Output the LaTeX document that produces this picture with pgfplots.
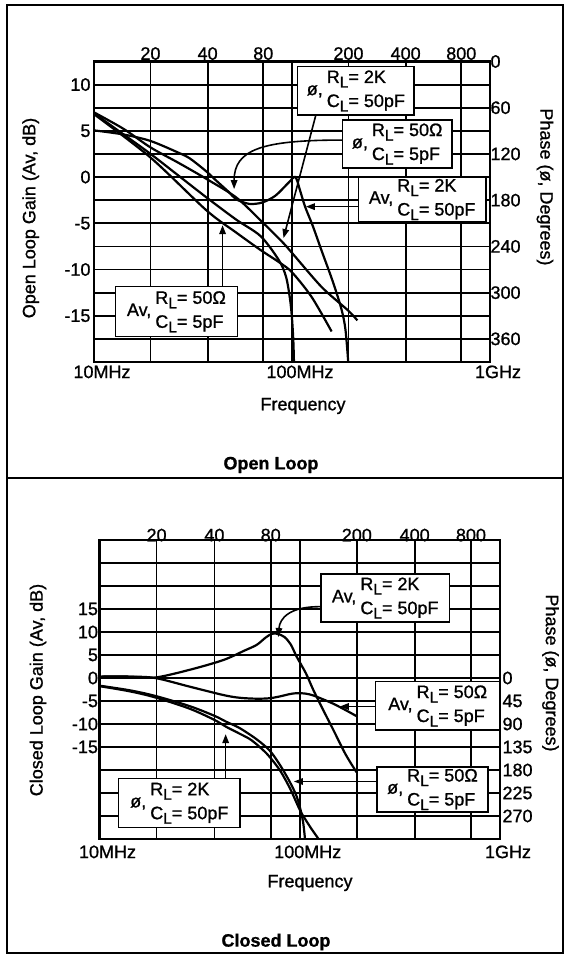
\documentclass[border=0pt]{standalone}
\usepackage{fontspec}
\setmainfont{Liberation Sans}[FakeBold=1]
\usepackage{pgfplots}
\pgfplotsset{compat=1.18}
\usetikzlibrary{arrows.meta,calc}
\newcommand\sub[1]{\raisebox{-4.5pt}{\fontsize{15.5}{15.5}\selectfont #1}}
\newcommand\lab[3]{#1,\hspace{4pt}\begin{tabular}[c]{@{}l@{}}R\sub{L}= #2\\[3pt]C\sub{L}= #3\end{tabular}}
\tikzset{
  olcurve/.style={black, line width=2.2pt, smooth, mark=none},
  olbox/.style={draw=black, fill=white, line width=1.6pt},
  olarr/.style={black, line width=1.6pt, -{Triangle[length=9pt,width=6.5pt]}},
}
\begin{document}
\begin{tikzpicture}[font=\fontsize{18}{21}\selectfont]
\path (0pt,0pt) rectangle (566pt,955pt);
\draw[line width=1.6pt] (7pt,2pt) rectangle (563pt,950pt);
\draw[line width=1.6pt] (7pt,477pt) -- (563pt,477pt);

% ================= OPEN LOOP =================
\begin{axis}[scale only axis, anchor=south west, xmode=log, xmin=10, xmax=1000,
  axis line style={line width=2.6pt}, major tick length=0pt,
  tick label style={font=\fontsize{18}{21}\selectfont},
  at={(94pt,593pt)}, width=396pt, height=300.5pt,
  ymin=-20, ymax=12.5,
  ytick={-20,-17.5,-15,-12.5,-10,-7.5,-5,-2.5,0,2.5,5,7.5,10,12.5},
  yticklabels={,,-15,,-10,,-5,,0,,5,,10,},
  xtick={10,19.28,37.5,71.6,100,192.8,375,716,1000},
  xticklabels={10MHz,,,,100MHz,,,,1GHz},
  xticklabel style={xshift=8pt},
  grid=major, major grid style={black, line width=1.8pt}]
% Av, RL=2K, CL=50pF
\addplot[olcurve] coordinates {(10,5.05)(14.13,4.6)(19.32,3.9)(26.92,2.6)(30.55,2.0)(36.98,0.6)(41.5,-0.4)(47.86,-1.6)(52.24,-2.4)(60.81,-2.9)(70.79,-2.75)(82.6,-2.0)(96.16,-0.6)(103.99,0)(110,-1.5)(116.4,-3.2)(127.4,-5.3)(141.3,-8.0)(160.7,-11.3)(177.8,-14.3)(186.2,-16.5)(192.3,-20)};
% Av, RL=50, CL=5pF
\addplot[olcurve] coordinates {(10,6.8)(19.32,2.1)(36.98,-3.6)(52.24,-6.0)(69.5,-7.9)(85.9,-9.2)(100,-10.3)(125.9,-13.0)(158.5,-16.7)};
\end{axis}

\begin{axis}[scale only axis, anchor=south west, xmode=log, xmin=10, xmax=1000,
  axis line style={line width=2.6pt}, major tick length=0pt,
  tick label style={font=\fontsize{18}{21}\selectfont},
  at={(94pt,593pt)}, width=396pt, height=300.5pt,
  ymin=0, ymax=390, y dir=reverse,
  ytick={0,60,120,180,240,300,360}, yticklabels={0,60,120,180,240,300,360},
  xtick={19.28,37.5,71.6,192.8,375,716}, xticklabels={20,40,80,200,400,800},
  xticklabel pos=right, yticklabel pos=right,
  xticklabel style={yshift=-2pt}, yticklabel style={xshift=-3pt}]
% phase, RL=2K, CL=50pF
\addplot[olcurve] coordinates {(10,66)(14.13,87.6)(19.32,111.6)(26.92,132)(36.98,152.4)(52.24,176.4)(69.5,206.4)(89.13,234)(100,248.4)(141.3,292.8)(191.4,322.8)(213.8,336)};
% phase, RL=50, CL=5pF
\addplot[olcurve] coordinates {(10,67.2)(14.13,94.8)(19.32,120)(26.92,148.8)(36.98,176.4)(52.24,205.2)(69.5,226.8)(85.9,258)(93.33,279.6)(97.72,308.4)(100,333.6)(101.6,363.6)(102.3,390)};
\end{axis}

\begin{axis}[scale only axis, anchor=south west, xmode=log, xmin=10, xmax=1000,
  at={(94pt,593pt)}, width=396pt, height=300.5pt,
  ymin=-20, ymax=12.5, hide axis, clip=false]
\draw[olbox] (axis cs:106.7,11.94) rectangle (axis cs:414,6.72);
\node at (axis cs:210.2,9.33) {\lab{ø}{2K}{50pF}};
\draw[olbox] (axis cs:179.5,6.18) rectangle (axis cs:644,1.0);
\node at (axis cs:340,3.59) {\lab{ø}{50Ω}{5pF}};
\draw[olbox] (axis cs:216.3,0.03) rectangle (axis cs:955,-4.85);
\node at (axis cs:454.5,-2.41) {\lab{Av}{2K}{50pF}};
\draw[olbox] (axis cs:12.82,-11.85) rectangle (axis cs:53.09,-17.25);
\node at (axis cs:26.09,-14.55) {\lab{Av}{50Ω}{5pF}};
\draw[olarr] (axis cs:132,6.72) -- (axis cs:90.6,-6.6);
\draw[olarr] (axis cs:179.5,4.0) .. controls (axis cs:70.8,4.0) and (axis cs:51,3.0) .. (axis cs:51,-1.3);
\draw[olarr] (axis cs:216.3,-3.2) -- (axis cs:117.5,-3.2);
\draw[olarr] (axis cs:44.6,-11.85) -- (axis cs:44.6,-5.2);
\end{axis}

% ================= CLOSED LOOP =================
\begin{axis}[scale only axis, anchor=south west, xmode=log, xmin=10, xmax=1000,
  axis line style={line width=2.6pt}, major tick length=0pt,
  tick label style={font=\fontsize{18}{21}\selectfont},
  at={(99.5pt,116pt)}, width=400.5pt, height=299pt,
  ymin=-35, ymax=30,
  ytick={-35,-30,-25,-20,-15,-10,-5,0,5,10,15,20,25,30},
  yticklabels={,,,,-15,-10,-5,0,5,10,15,,,},
  xtick={10,19.28,37.5,71.6,100,192.8,375,716,1000},
  xticklabels={10MHz,,,,100MHz,,,,1GHz},
  xticklabel style={xshift=8pt,yshift=-3pt}, yticklabel style={xshift=2pt},
  grid=major, major grid style={black, line width=1.8pt}]
% Av, RL=2K, CL=50pF
\addplot[olcurve] coordinates {(10,0.3)(14.13,0.3)(18.97,0.1)(28.31,1.8)(41.5,3.9)(53.21,6.0)(60.95,7.2)(67.61,8.8)(72.61,9.6)(77.62,9.6)(83.95,8.9)(90.16,7.3)(96.61,4.6)(107.4,1.0)(116.9,-2.6)(131.8,-7.2)(147.2,-11.3)(169.4,-16.6)(192.3,-20.5)};
% Av, RL=50, CL=5pF
\addplot[olcurve] coordinates {(10,0.3)(14.13,0.3)(18.97,0.0)(28.31,-1.9)(41.5,-3.7)(50.12,-4.3)(60.95,-4.5)(70.79,-4.4)(79.62,-4.0)(89.13,-3.5)(96.61,-3.3)(107.2,-3.4)(116.9,-3.8)(131.8,-4.7)(147.2,-5.6)(169.8,-7.0)(192.3,-8.3)};
\end{axis}

\begin{axis}[scale only axis, anchor=south west, xmode=log, xmin=10, xmax=1000,
  axis line style={line width=2.6pt}, major tick length=0pt,
  tick label style={font=\fontsize{18}{21}\selectfont},
  at={(99.5pt,116pt)}, width=400.5pt, height=299pt,
  ymin=-270, ymax=315, y dir=reverse,
  ytick={0,45,90,135,180,225,270}, yticklabels={0,45,90,135,180,225,270},
  xtick={19.28,37.5,71.6,192.8,375,716}, xticklabels={20,40,80,200,400,800},
  xticklabel pos=right, yticklabel pos=right,
  xticklabel style={yshift=-5pt}, yticklabel style={xshift=-1pt}]
% phase, RL=50, CL=5pF
\addplot[olcurve] coordinates {(10,15)(14.13,24)(18.97,35)(28.18,55)(37.5,74)(43.15,86)(50.12,98)(60.95,120)(70.79,142)(79.62,170)(89.13,203)(96.61,232)(101.2,260)(104.2,285)(106.2,315)};
% phase, RL=2K, CL=50pF
\addplot[olcurve] coordinates {(10,16)(14.13,26)(18.97,38)(28.18,60)(37.5,82)(43.15,96)(50.12,109)(57.54,122)(68.39,148)(79.43,180)(89.13,215)(96.61,245)(101.2,262)(107.2,278)(114.8,296)(124.2,315)};
\end{axis}

\begin{axis}[scale only axis, anchor=south west, xmode=log, xmin=10, xmax=1000,
  at={(99.5pt,116pt)}, width=400.5pt, height=299pt,
  ymin=-35, ymax=30, hide axis, clip=false]
\draw[olbox] (axis cs:127.6,22.6) rectangle (axis cs:559.8,12.2);
\node at (axis cs:267.3,17.4) {\lab{Av}{2K}{50pF}};
\draw[olbox] (axis cs:238.8,-0.8) rectangle (axis cs:1000,-11.3);
\node at (axis cs:488.7,-6.05) {\lab{Av}{50Ω}{5pF}};
\draw[olbox] (axis cs:243.2,-19.3) rectangle (axis cs:871,-29.1);
\node at (axis cs:460.2,-24.2) {\lab{ø}{50Ω}{5pF}};
\draw[olbox] (axis cs:12.45,-21.85) rectangle (axis cs:50.35,-32.5);
\node at (axis cs:25.04,-27.18) {\lab{ø}{2K}{50pF}};
\draw[olarr] (axis cs:127.6,15.5) .. controls (axis cs:89.13,15.6) and (axis cs:79.43,13) .. (axis cs:78.16,8.9);
\draw[olarr] (axis cs:238.8,-6.2) -- (axis cs:158.5,-6.2);
\draw[olarr] (axis cs:243.2,-22.5) -- (axis cs:93.5,-22.5);
\draw[olarr] (axis cs:42.66,-21.85) -- (axis cs:42.66,-12.2);
\end{axis}

% ================= TEXT =================
\node[rotate=90] at (30.7pt,737pt) {Open Loop Gain (Av, dB)};
\node[rotate=-90] at (545pt,768pt) {Phase (ø, Degrees)};
\node at (303pt,549pt) {Frequency};
\node[font=\fontsize{18}{21}\selectfont\bfseries] at (271pt,490pt) {Open Loop};
\node[rotate=90] at (38pt,265pt) {Closed Loop Gain (Av, dB)};
\node[rotate=-90] at (550.5pt,282pt) {Phase (ø, Degrees)};
\node at (310pt,72pt) {Frequency};
\node[font=\fontsize{18}{21}\selectfont\bfseries] at (276pt,13pt) {Closed Loop};
\end{tikzpicture}
\end{document}
